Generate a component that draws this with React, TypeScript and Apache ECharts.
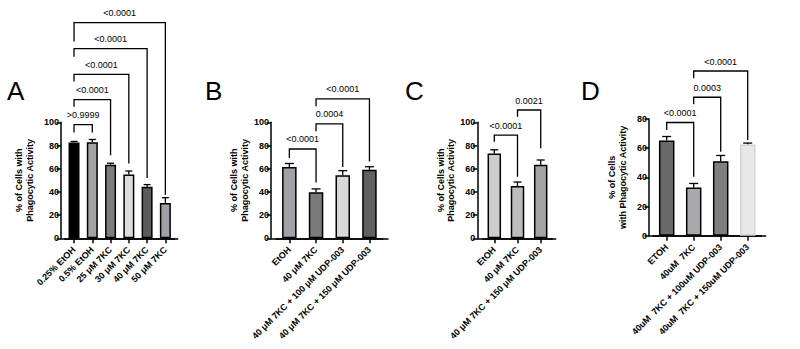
import React, { useEffect, useRef } from 'react';
import * as echarts from 'echarts';

const FONT = '"Liberation Sans", Arial, Helvetica, sans-serif';

// ---------- Panel A ----------
const catsA = ['0.25% EtOH', '0.5% EtOH', '25 μM 7KC', '30 μM 7KC', '40 μM 7KC', '50 μM 7KC'];
const meanA = [82.5, 82.7, 63.5, 55, 44.5, 30.5];
const errA = [1, 2.5, 1.2, 3, 1.8, 4.5];
const colorA = ['#000000', '#a3a3a3', '#7d7d7d', '#dcdcdc', '#5c5c5c', '#a0a0a8'];
// [leftIndex, rightIndex, level, leftLegEnd, rightLegEnd]
const bracketsA = [
  [0, 5, 186, 169.6, 37.5],
  [0, 4, 163.5, 156.6, 52],
  [0, 3, 141.3, 135.2, 64.5],
  [0, 2, 119.6, 113.5, 71.5],
  [0, 1, 98, 91.3, 91.3],
];
const pA = ['<0.0001', '<0.0001', '<0.0001', '<0.0001', '>0.9999'];

// ---------- Panel B ----------
const catsB = ['EtOH', '40 μM 7KC', '40 μM 7KC + 100 μM UDP-003', '40 μM 7KC + 150 μM UDP-003'];
const meanB = [61.5, 39.8, 54.3, 59];
const errB = [3, 2.8, 4, 2.7];
const colorB = ['#a0a0a8', '#7a7a7a', '#d8d8d8', '#606060'];
const bracketsB = [
  [0, 1, 77, 69.2, 48.1],
  [1, 2, 98.6, 92.2, 61.4],
  [1, 3, 120.2, 113.8, 66.3],
];
const pB = ['<0.0001', '0.0004', '<0.0001'];

// ---------- Panel C ----------
const catsC = ['EtOH', '40 μM 7KC', '40 μM 7KC + 150 μM UDP-003'];
const meanC = [73, 45, 63.5];
const errC = [3.3, 3.5, 4];
const colorC = ['#cdcdcd', '#bdbdbd', '#a3a3a3'];
const bracketsC = [
  [0, 1, 89, 83.3, 53],
  [1, 2, 110.6, 104.8, 77.6],
];
const pC = ['<0.0001', '0.0021'];

// ---------- Panel D ----------
const catsD = ['ETOH', '40uM  7KC', '40uM  7KC + 100uM UDP-003', '40uM  7KC + 150uM UDP-003'];
const meanD = [65.3, 33, 51, 62.5];
const errD = [2.7, 2.8, 4, 1];
const colorD = ['#6a6a6a', '#a8a8ad', '#7f7f7f', '#e8e8e8'];
const borderD = ['#000000', '#000000', '#000000', '#d4d4d4'];
const bracketsD = [
  [0, 1, 77.6, 72.4, 40.4],
  [1, 2, 94.9, 90.1, 57.6],
  [1, 3, 112.9, 107.9, 65.6],
];
const pD = ['<0.0001', '0.0003', '<0.0001'];

const panels = [
  {
    letter: 'A', cats: catsA, means: meanA, errs: errA, colors: colorA, borders: null as string[] | null,
    brackets: bracketsA, pLabels: pA, yMax: 100,
    outer: { left: 61, width: 116.7, top: 122.3, height: 116 },
    inner: { left: 64.9, width: 109.6 },
    barWidth: 11, cap: 7, nameGap: 26, yName: '% of Cells with\nPhagocytic Activity', letterX: 7,
  },
  {
    letter: 'B', cats: catsB, means: meanB, errs: errB, colors: colorB, borders: null,
    brackets: bracketsB, pLabels: pB, yMax: 100,
    outer: { left: 271, width: 117, top: 122.3, height: 116 },
    inner: { left: 276, width: 106.8 },
    barWidth: 14.5, cap: 9, nameGap: 21, yName: '% of Cells with\nPhagocytic Activity', letterX: 205,
  },
  {
    letter: 'C', cats: catsC, means: meanC, errs: errC, colors: colorC, borders: null,
    brackets: bracketsC, pLabels: pC, yMax: 100,
    outer: { left: 477.3, width: 78.4, top: 122.3, height: 116 },
    inner: { left: 482.7, width: 69.6 },
    barWidth: 13.5, cap: 8, nameGap: 20, yName: '% of Cells with\nPhagocytic Activity', letterX: 405,
  },
  {
    letter: 'D', cats: catsD, means: meanD, errs: errD, colors: colorD, borders: borderD,
    brackets: bracketsD, pLabels: pD, yMax: 80,
    outer: { left: 649, width: 116.7, top: 119, height: 116.7 },
    inner: { left: 653.2, width: 108 },
    barWidth: 15.5, cap: 9, nameGap: 21, yName: '% of Cells\nwith Phagocytic Activity', letterX: 581,
  },
];

function buildOption() {
  const grid: any[] = [];
  const xAxis: any[] = [];
  const yAxis: any[] = [];
  const series: any[] = [];
  const graphic: any[] = [];

  panels.forEach((p, k) => {
    const go = 2 * k;
    const gi = 2 * k + 1;
    grid.push({ left: p.outer.left, width: p.outer.width, top: p.outer.top, height: p.outer.height, containLabel: false });
    grid.push({ left: p.inner.left, width: p.inner.width, top: p.outer.top, height: p.outer.height, containLabel: false });

    xAxis.push({
      type: 'value', gridIndex: go, min: 0, max: 1,
      axisLine: { show: true, onZero: false, lineStyle: { color: '#000', width: 1.5 } },
      axisTick: { show: false }, axisLabel: { show: false }, splitLine: { show: false },
    });
    xAxis.push({
      type: 'category', gridIndex: gi, data: p.cats,
      axisLine: { show: true, onZero: false, lineStyle: { color: '#000', width: 1.5 } },
      axisTick: { show: true, alignWithLabel: true, length: 5, lineStyle: { color: '#000', width: 1.5 } },
      axisLabel: { interval: 0, rotate: 45, margin: 10, fontSize: 9, fontWeight: 'bold', color: '#000', fontFamily: FONT },
      splitLine: { show: false },
    });
    yAxis.push({
      type: 'value', gridIndex: go, min: 0, max: p.yMax, interval: 20,
      axisLine: { show: true, onZero: false, lineStyle: { color: '#000', width: 1.5 } },
      axisTick: { show: true, length: 4.5, lineStyle: { color: '#000', width: 1.5 } },
      axisLabel: { margin: 2, fontSize: 9, fontWeight: 'bold', color: '#000', fontFamily: FONT },
      splitLine: { show: false },
      name: p.yName, nameLocation: 'middle', nameRotate: 90, nameGap: p.nameGap,
      nameTextStyle: { fontSize: 9, fontWeight: 'bold', color: '#000', fontFamily: FONT, lineHeight: 10.5 },
    });
    yAxis.push({ type: 'value', gridIndex: gi, min: 0, max: p.yMax, show: false });

    const xi = gi;
    const yi = gi;

    series.push({
      type: 'custom', xAxisIndex: xi, yAxisIndex: yi, z: 1, clip: false,
      data: p.means.map((m, i) => [i, m, p.errs[i]]),
      encode: { x: 0, y: 1 },
      renderItem: (params: any, api: any) => {
        const x = api.value(0);
        const m = api.value(1);
        const e = api.value(2);
        const p0 = api.coord([x, m]);
        const p1 = api.coord([x, m + e]);
        const hw = p.cap / 2;
        return {
          type: 'group',
          children: [
            { type: 'line', shape: { x1: p0[0], y1: p0[1], x2: p1[0], y2: p1[1] }, style: { stroke: '#000', lineWidth: 1.3 } },
            { type: 'line', shape: { x1: p1[0] - hw, y1: p1[1], x2: p1[0] + hw, y2: p1[1] }, style: { stroke: '#000', lineWidth: 1.3 } },
          ],
        };
      },
    });

    series.push({
      type: 'bar', xAxisIndex: xi, yAxisIndex: yi, z: 2, barWidth: p.barWidth,
      data: p.means.map((m, i) => ({
        value: m,
        itemStyle: { color: p.colors[i], borderColor: p.borders ? p.borders[i] : '#000', borderWidth: 1.5 },
      })),
    });

    const labels = p.pLabels;
    series.push({
      type: 'custom', xAxisIndex: xi, yAxisIndex: yi, z: 3, clip: false,
      data: p.brackets,
      encode: { x: 0, y: 2 },
      renderItem: (params: any, api: any) => {
        const i = api.value(0);
        const j = api.value(1);
        const lvl = api.value(2);
        const le = api.value(3);
        const re = api.value(4);
        const a = api.coord([i, lvl]);
        const b = api.coord([j, lvl]);
        const la = api.coord([i, le]);
        const rb = api.coord([j, re]);
        return {
          type: 'group',
          children: [
            {
              type: 'polyline',
              shape: { points: [[la[0], la[1]], [a[0], a[1]], [b[0], b[1]], [rb[0], rb[1]]] },
              style: { stroke: '#000', lineWidth: 1.3, fill: 'none' },
            },
            {
              type: 'text',
              x: (a[0] + b[0]) / 2,
              y: a[1] - 9.5,
              style: {
                text: labels[params.dataIndex], fontSize: 9, fontFamily: FONT, fill: '#000',
                align: 'center', verticalAlign: 'middle', textAlign: 'center', textVerticalAlign: 'middle',
              },
            },
          ],
        };
      },
    });

    graphic.push({
      type: 'text', left: p.letterX, top: 78,
      style: { text: p.letter, fontSize: 26, fontFamily: FONT, fill: '#000' },
    });
  });

  return { animation: false, backgroundColor: '#fff', grid, xAxis, yAxis, series, graphic };
}

export default function App() {
  const ref = useRef<HTMLDivElement>(null);
  useEffect(() => {
    if (!ref.current) return;
    const chart = echarts.init(ref.current, undefined, { renderer: 'svg' });
    chart.setOption(buildOption() as any);
    return () => chart.dispose();
  }, []);
  return <div ref={ref} style={{ position: 'fixed', left: 0, top: 0, width: 800, height: 349, background: '#fff' }} />;
}
